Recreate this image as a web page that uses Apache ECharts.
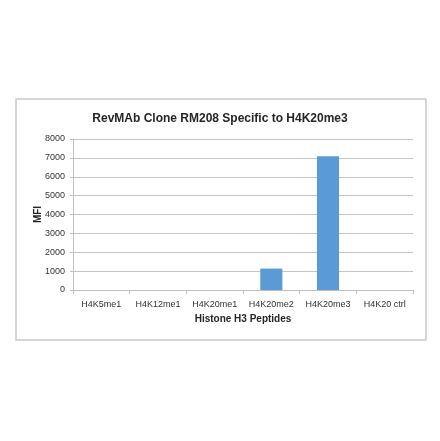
<!DOCTYPE html>
<html>
<head>
<meta charset="utf-8">
<script src="https://cdn.jsdelivr.net/npm/echarts@6/dist/echarts.min.js"></script>
<style>
  html, body { margin: 0; padding: 0; background: #fff; }
  #chart { width: 440px; height: 441px; }
</style>
</head>
<body>
<div id="chart"></div>
<script>
// peptide categories and MFI
const peptides = ["H4K5me1", "H4K12me1", "H4K20me1", "H4K20me2", "H4K20me3", "H4K20 ctrl"];
const mfi = [0, 0, 0, 1135, 7080, 0];
const yTicks = [0, 1000, 2000, 3000, 4000, 5000, 6000, 7000, 8000];

const chart = echarts.init(document.getElementById("chart"));
const font = "'Liberation Sans', Arial, sans-serif";

const option = {
  animation: false,
  backgroundColor: "#fff",
  graphic: [
    {
      type: "rect",
      shape: { x: 16, y: 99, width: 410, height: 241 },
      style: { fill: "none", stroke: "#c9c9c9", lineWidth: 1.5 },
      silent: true
    }
  ],
  title: {
    text: "RevMAb Clone RM208 Specific to H4K20me3",
    left: "center",
    top: 108,
    textStyle: { fontFamily: font, fontSize: 12, fontWeight: "bold", color: "#262626" }
  },
  grid: { left: 73, right: 27, top: 139, bottom: 151, containLabel: false },
  xAxis: {
    type: "category",
    data: peptides,
    name: "Histone H3 Peptides",
    nameLocation: "middle",
    nameGap: 24,
    nameMoveOverlap: false,
    nameTextStyle: { fontFamily: font, fontSize: 10, fontWeight: "bold", color: "#262626" },
    axisLine: { lineStyle: { color: "#bfbfbf" } },
    axisTick: { show: true, length: 4, lineStyle: { color: "#bfbfbf" } },
    axisLabel: { fontFamily: font, fontSize: 9, color: "#333", margin: 10, interval: 0 }
  },
  yAxis: {
    type: "value",
    min: yTicks[0],
    max: yTicks[yTicks.length - 1],
    interval: 1000,
    name: "MFI",
    nameLocation: "middle",
    nameGap: 30,
    nameMoveOverlap: false,
    nameTextStyle: { fontFamily: font, fontSize: 10, fontWeight: "bold", color: "#262626" },
    axisLine: { show: true, lineStyle: { color: "#bfbfbf" } },
    axisTick: { show: true, length: 3, lineStyle: { color: "#bfbfbf" } },
    axisLabel: {
      fontFamily: font, fontSize: 9, color: "#333", margin: 8,
      formatter: (v) => String(v)
    },
    splitLine: { lineStyle: { color: "#c4c4c4" } }
  },
  series: [
    {
      type: "bar",
      data: mfi,
      barWidth: "39%",
      itemStyle: { color: "#5b9bd5" }
    }
  ]
};

chart.setOption(option);
</script>
</body>
</html>
